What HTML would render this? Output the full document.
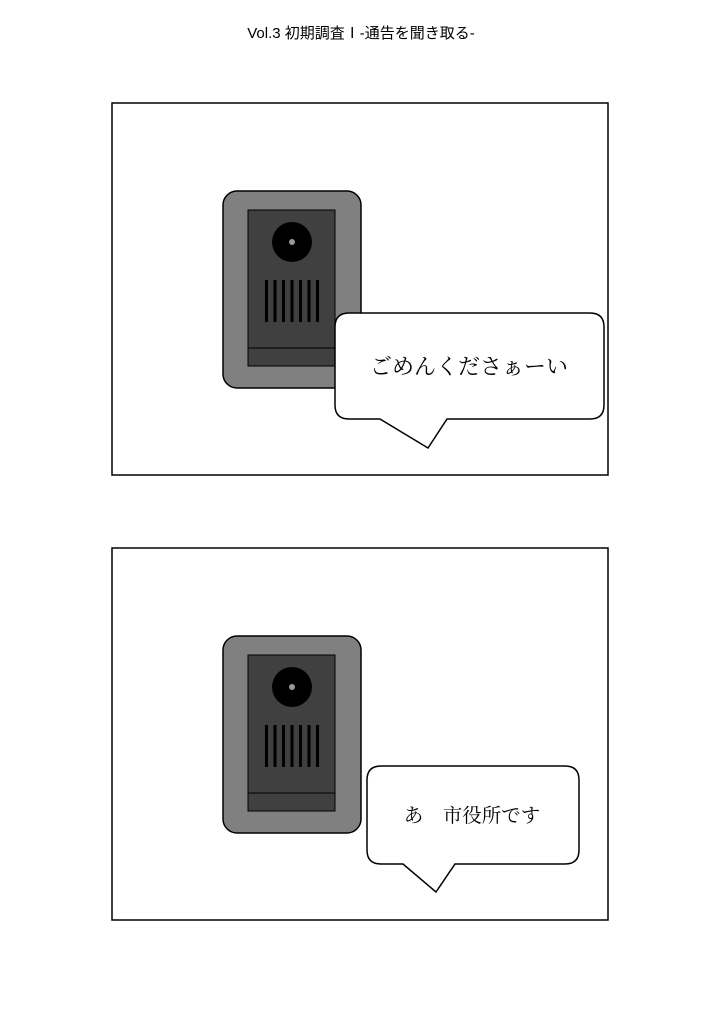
<!DOCTYPE html>
<html><head><meta charset="utf-8"><style>
body{margin:0;background:#fff;width:721px;height:1024px;overflow:hidden}
</style></head><body>
<svg width="721" height="1024" viewBox="0 0 721 1024" xmlns="http://www.w3.org/2000/svg">
<rect width="721" height="1024" fill="#fff"/>
<text x="361" y="38" text-anchor="middle" font-family="'Liberation Sans','Noto Sans CJK JP',sans-serif" font-size="15" fill="#000">Vol.3 初期調査Ⅰ-通告を聞き取る-</text>
<rect x="112" y="103" width="496" height="372" fill="#fff" stroke="#000" stroke-width="1.5"/>
<rect x="223" y="191" width="138" height="197" rx="14" fill="#808080" stroke="#000" stroke-width="1.5"/>
<rect x="248" y="210" width="87" height="156" fill="#404040" stroke="#000" stroke-width="1"/>
<line x1="248" y1="348" x2="335" y2="348" stroke="#000" stroke-width="1"/>
<circle cx="292" cy="242" r="20" fill="#000"/>
<circle cx="292" cy="242" r="3" fill="#999"/>
<g fill="#000">
<rect x="265" y="280" width="3" height="42"/><rect x="273.5" y="280" width="3" height="42"/><rect x="282" y="280" width="3" height="42"/><rect x="290.5" y="280" width="3" height="42"/><rect x="299" y="280" width="3" height="42"/><rect x="307.5" y="280" width="3" height="42"/><rect x="316" y="280" width="3" height="42"/>
</g>
<path d="M349,313 H590 Q604,313 604,327 V405 Q604,419 590,419 H447 L428,448 L380,419 H349 Q335,419 335,405 V327 Q335,313 349,313 Z" fill="#fff" stroke="#000" stroke-width="1.5"/>
<text x="469" y="374" text-anchor="middle" font-family="'Liberation Serif','Noto Serif CJK SC',serif" font-size="22" fill="#000">ごめんくださぁーい</text>
<rect x="112" y="548" width="496" height="372" fill="#fff" stroke="#000" stroke-width="1.5"/>
<rect x="223" y="636" width="138" height="197" rx="14" fill="#808080" stroke="#000" stroke-width="1.5"/>
<rect x="248" y="655" width="87" height="156" fill="#404040" stroke="#000" stroke-width="1"/>
<line x1="248" y1="793" x2="335" y2="793" stroke="#000" stroke-width="1"/>
<circle cx="292" cy="687" r="20" fill="#000"/>
<circle cx="292" cy="687" r="3" fill="#999"/>
<g fill="#000">
<rect x="265" y="725" width="3" height="42"/><rect x="273.5" y="725" width="3" height="42"/><rect x="282" y="725" width="3" height="42"/><rect x="290.5" y="725" width="3" height="42"/><rect x="299" y="725" width="3" height="42"/><rect x="307.5" y="725" width="3" height="42"/><rect x="316" y="725" width="3" height="42"/>
</g>
<path d="M381,766 H565 Q579,766 579,780 V850 Q579,864 565,864 H455 L436,892 L403,864 H381 Q367,864 367,850 V780 Q367,766 381,766 Z" fill="#fff" stroke="#000" stroke-width="1.5"/>
<text x="472" y="822" text-anchor="middle" font-family="'Liberation Serif','Noto Serif CJK SC',serif" font-size="19.5" fill="#000">あ　市役所です</text>
</svg>
</body></html>
